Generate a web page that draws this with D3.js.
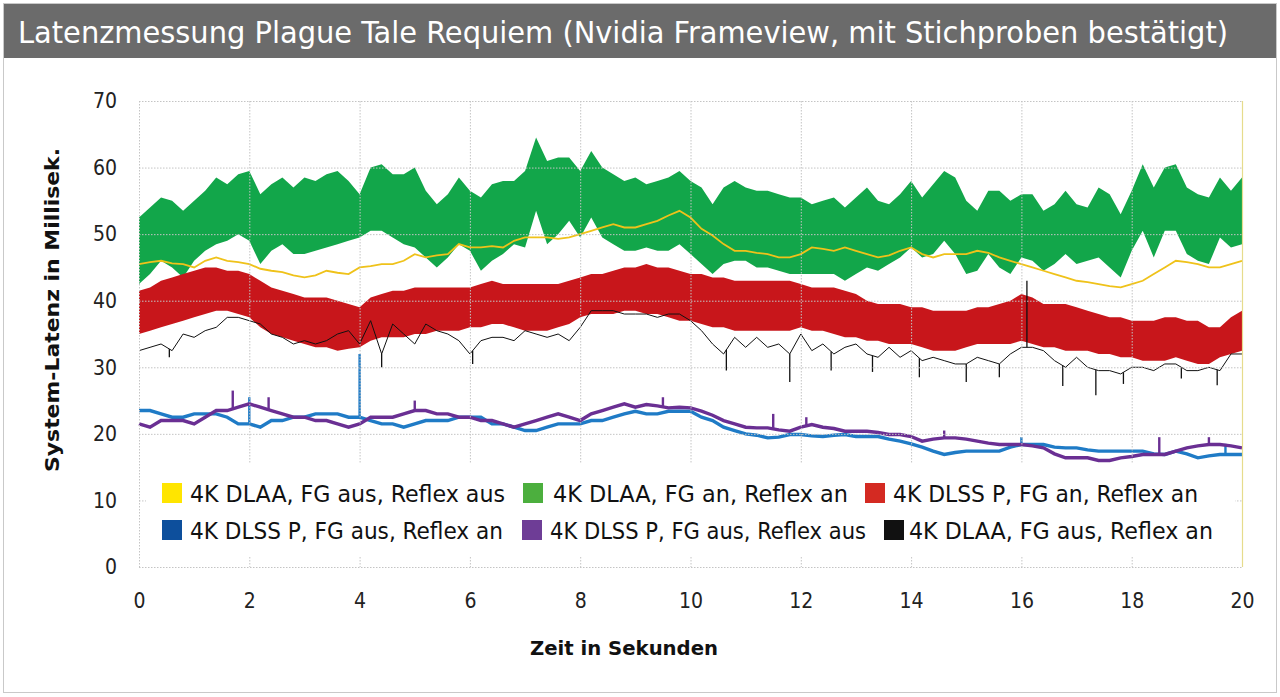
<!DOCTYPE html>
<html><head><meta charset="utf-8">
<script src="https://cdn.jsdelivr.net/npm/d3@7"></script>
<style>body{margin:0;background:#fff}svg{display:block}</style>
</head><body>
<script>
// ---- data ----
const timeSec = d3.range(0, 101).map(i => +(i * 0.2).toFixed(1));
const yTicks = [0,10,20,30,40,50,60,70];
const xTicks = [0,2,4,6,8,10,12,14,16,18,20];
const seriesNames = ["4K DLAA, FG aus, Reflex aus","4K DLAA, FG an, Reflex an","4K DLSS P, FG an, Reflex an",
  "4K DLSS P, FG aus, Reflex an","4K DLSS P, FG aus, Reflex aus","4K DLAA, FG aus, Reflex an"];
// green band (DLAA FG an Reflex an): upper / lower envelope
const greenUpper = [52.5,54,55.5,55,53.5,55,56.5,58.5,57.5,59,
 59.5,56,57.5,58.5,57,58.5,58,59,59.5,58,
 56,60,60.5,59,59,60,56.5,54.5,56,58.5,
 56.5,55.5,57.5,58,58,59.5,64.5,61,61.5,61.5,
 59.5,62.5,60,59,58,58.5,57.5,58,58.5,59.5,
 58,57,54.5,57,58,57,56.5,56.5,56,55.5,
 55.5,54.5,55,55.5,54,55.5,57,55,54.5,56,
 58,55.5,57.5,59.5,58.5,55,53.5,56.5,56.5,55,
 56,56,53.5,54.5,56.5,54.5,54,57,56,53,
 56.5,60.5,57,60,60.5,57,56,55.5,58.5,56.5,
 58.5];
const greenLower = [42.5,44,46,45,43.5,46,47.5,48.5,49,50,
 49,45.5,47.5,48.5,47,47,47.5,48,48.5,49,
 49.5,50.5,50.5,49.5,48.5,48,46.5,45,46.5,48.5,
 47.5,44.5,46,47,48.5,48,53.5,48.5,50,52,
 49.5,52.5,49.5,48.5,47.5,47.5,48,47.5,47.5,48.5,
 47,45.5,44,45.5,46,46,45,45,44.5,44,
 44,44,44,44,43,44,45,44.5,45.5,46.5,
 48,46.5,47,49,47,44,44.5,47,45,44,
 46.5,46,44.5,45.5,47,45.5,46,46.5,45,43.5,
 47.5,50.5,46.5,50.5,50.5,47,46,45.5,49.5,48,
 48.5];
// yellow line (DLAA FG aus Reflex aus)
const yellowVals = [45.5,45.8,46,45.6,45.5,45,46,46.5,46,45.8,
 45.5,44.8,44.5,44.3,43.8,43.5,43.8,44.5,44.2,44,
 45,45.2,45.5,45.5,46,47,46.5,46.8,47,48.5,
 48,48,48.2,48,49,49.5,49.5,49.5,49.3,49.5,
 50,50.5,51,51.5,51,51,51.5,52,52.8,53.5,
 52.5,50.8,49.8,48.5,47.5,47.5,47.2,47,46.5,46.5,
 47,48,47.8,47.5,48,47.5,47,46.5,46.8,47.5,
 48,47,46.5,47,47,47,47.5,47.2,46.5,46,
 45.5,45,44.5,44,43.5,43,42.8,42.5,42.2,42,
 42.5,43,44,45,46,45.8,45.5,45,45,45.5,
 46];
// red band (DLSS P FG an Reflex an)
const redUpper = [41.5,42,43,43.5,44,44.5,45,45,44.5,44.5,
 44,43,42,41.5,41,40.5,40.5,40.5,40,39.5,
 39,40.5,41,41.5,41.5,42,42,42,42,42,
 42,42.5,43,42.5,42.5,42.5,42.5,42.5,42.5,43,
 43.5,44,44,44.5,45,45,45.5,45,45,44.5,
 44,44,43.5,43.5,43,43,43,43,43,43,
 42.5,42,42,42,41.5,41,40,39.5,39.5,39.5,
 39,39,38.5,38.5,38.5,38.5,39,39,39.5,40,
 41,40.5,39.5,39.5,39.5,39,38.5,38,37.5,37.5,
 37,37,37,37.5,37.5,37,37,36,36,37.5,
 38.5];
const redLower = [35,35.5,36,36.5,37,37.5,38,38.5,38.5,38,
 37.5,36,35,34.5,34,33.5,33,33,32.5,32.8,
 33,34,34.5,34.5,34.5,35,35,35.5,35.5,35.5,
 36,36,36.5,36.5,36,35.5,35.5,35.5,36,36.5,
 37.5,38,38,38,38.5,38.5,38,38,37.5,37,
 37,36.5,36,36,35.5,35.5,35.5,35.5,35.5,35.5,
 36,35.5,35.5,35,34.5,34.5,34,34,33.5,33.5,
 33.5,33,32.5,32.5,32.5,33,33.5,33.5,33.5,33.5,
 34,33.5,33,33,32.5,32.5,32.5,32,32,31.5,
 31.5,31,31,31,31.5,31,30.5,30.5,31.5,32,
 32.5];
// black line (DLAA FG aus Reflex an)
const blackVals = [32.5,33,33.5,32.5,35,34.5,35.5,36,37.5,37.5,
 37,36.5,35,34.5,33.5,34,33.5,34,35,35.5,
 33.5,37,32,36.5,35,33.5,36.5,35.5,35,34,
 32,34,34.5,34.5,34,35.5,35,34.5,35,34,
 36,38.5,38.5,38.5,38,38,38,37.5,38,38,
 37,35.5,33.5,32,34.5,33,34.5,33,33.5,32,
 35,32.5,33.5,32,33,33.5,32,31.5,33,31.5,
 32.5,31,31.5,31,30.5,30.5,31.5,31,30.5,32,
 33,33,32.5,31,30,31.5,30,29.5,29.5,29,
 30,30,29.5,30.5,30.5,29.5,29.5,30,29.5,32,
 32];
// short spikes of the black line: [time, peak value]
const blackSpikes = [[0.55,31.5],[4.4,30],[6.05,30.5],[10.65,29.5],[11.8,27.8],[12.55,29.5],[13.3,29.3],
  [14.15,28.5],[15.0,27.8],[15.6,28.5],[16.1,43],[16.75,27.2],[17.35,25.8],[17.85,27.5],[18.9,28.3],[19.55,27.3]];
// blue line (DLSS P FG aus Reflex an)
const blueVals = [23.5,23.5,23,22.5,22.5,23,23,23,22.5,21.5,
 21.5,21,22,22,22.5,22.5,23,23,23,22.5,
 22.5,22,21.5,21.5,21,21.5,22,22,22,22.5,
 22.5,22.5,21.5,21.5,21,20.5,20.5,21,21.5,21.5,
 21.5,22,22,22.5,23,23.4,23,23,23.4,23.4,
 23.4,22.5,22,21,20.5,20,19.8,19.4,19.5,19.9,
 19.9,19.7,19.6,19.8,19.9,19.6,19.6,19.6,19.2,18.9,
 18.5,18,17.4,16.9,17.2,17.4,17.4,17.4,17.4,18,
 18.4,18.4,18.4,18,17.9,17.9,17.6,17.4,17.4,17.4,
 17.4,17.4,17,16.9,17.4,17,16.4,16.7,16.9,16.9,
 16.9];
const blueSpikes = [[4.0,32],[2.0,25.5],[16.0,19.5],[19.7,18.5]];
// purple line (DLSS P FG aus Reflex aus)
const purpleVals = [21.5,21,22,22,22,21.5,22.5,23.5,23.5,24,
 24.5,24,23.5,23,22.5,22.5,22,22,21.5,21,
 21.5,22.5,22.5,22.5,23,23.5,23.5,23,23,22.5,
 22.5,22,22,21.5,21,21.5,22,22.5,23,22.5,
 22,23,23.5,24,24.5,24,24.4,24.2,23.9,24,
 23.9,23.4,22.8,22,21.5,21,20.9,20.9,20.6,20.4,
 21,21.4,21,20.8,20.4,20.4,20.4,20.2,19.9,19.9,
 19.6,18.9,19.2,19.4,19.4,19.2,18.9,18.6,18.4,18.4,
 18.4,18.2,17.9,17,16.4,16.4,16.4,16,16,16.4,
 16.6,16.9,16.9,16.9,17.4,17.9,18.2,18.4,18.4,18.2,
 17.9];
const purpleSpikes = [[1.7,26.5],[2.35,25.5],[5.0,25],[9.5,25.5],[11.5,23],[12.1,22.5],[14.6,20.5],[18.5,19.5],[19.4,19.5]];

// ---- drawing ----
const W = 1280, H = 697;
const svg = d3.select("body").append("svg").attr("width", W).attr("height", H);
const FONT = "'Liberation Sans Narrow','DejaVu Sans Condensed','Open Sans',sans-serif";

svg.append("rect").attr("x",3.5).attr("y",3.5).attr("width",1273).attr("height",689)
  .attr("fill","#fff").attr("stroke","#c9c9c9");
svg.append("rect").attr("x",4).attr("y",4).attr("width",1272).attr("height",54).attr("fill","#6b6b6b");
svg.append("text").attr("x",18).attr("y",43).attr("fill","#fff")
  .style("font-family",FONT).style("font-size","31px")
  .attr("textLength",1210).attr("lengthAdjust","spacingAndGlyphs")
  .text("Latenzmessung Plague Tale Requiem (Nvidia Frameview, mit Stichproben bestätigt)");

const x = d3.scaleLinear().domain([0,20]).range([139,1242]);
const y = d3.scaleLinear().domain([0,70]).range([567,101]);

const pts = v => timeSec.map((t,i) => [t, v[i]]);
const band = (lo, hi) => timeSec.map((t,i) => ({t, lo: lo[i], hi: hi[i]}));
const area = d3.area().x(d => x(d.t)).y0(d => y(d.lo)).y1(d => y(d.hi));
const lineLin = d3.line().x(d => x(d[0])).y(d => y(d[1]));
const baseAt = (vals, t) => d3.scaleLinear().domain(timeSec).range(vals)(t);

const g = svg.append("g");
g.append("path").attr("d", area(band(greenLower, greenUpper))).attr("fill","#12a64a");
g.append("path").attr("d", area(band(redLower, redUpper))).attr("fill","#c8161b");
g.append("path").attr("d", lineLin(pts(yellowVals))).attr("fill","none").attr("stroke","#efc21a").attr("stroke-width",1.8);
g.append("path").attr("d", lineLin(pts(blackVals))).attr("fill","none").attr("stroke","#111").attr("stroke-width",1);
g.selectAll("line.bs").data(blackSpikes).join("line").attr("class","bs")
  .attr("x1",d=>x(d[0])).attr("x2",d=>x(d[0])).attr("y1",d=>y(baseAt(blackVals,d[0]))).attr("y2",d=>y(d[1]))
  .attr("stroke","#111").attr("stroke-width",1.3);
g.append("path").attr("d", lineLin(pts(blueVals))).attr("fill","none").attr("stroke","#1f7bc6").attr("stroke-width",3.4);
g.selectAll("line.us").data(blueSpikes).join("line").attr("class","us")
  .attr("x1",d=>x(d[0])).attr("x2",d=>x(d[0])).attr("y1",d=>y(baseAt(blueVals,d[0]))).attr("y2",d=>y(d[1]))
  .attr("stroke","#1f7bc6").attr("stroke-width",2.4);
g.append("path").attr("d", lineLin(pts(purpleVals))).attr("fill","none").attr("stroke","#6a2f93").attr("stroke-width",3.4);
g.selectAll("line.ps").data(purpleSpikes).join("line").attr("class","ps")
  .attr("x1",d=>x(d[0])).attr("x2",d=>x(d[0])).attr("y1",d=>y(baseAt(purpleVals,d[0]))).attr("y2",d=>y(d[1]))
  .attr("stroke","#6a2f93").attr("stroke-width",2.4);

// grid (on top)
const grid = svg.append("g").attr("stroke","#c4c4c4").attr("stroke-width",1).attr("stroke-dasharray","1.5,1.5");
grid.selectAll("line.h").data(yTicks).join("line").attr("class","h")
  .attr("x1",x(0)).attr("x2",x(20)).attr("y1",d=>y(d)+0.5).attr("y2",d=>y(d)+0.5);
grid.selectAll("line.v").data(xTicks.slice(0,-1)).join("line").attr("class","v")
  .attr("x1",d=>x(d)+0.5).attr("x2",d=>x(d)+0.5).attr("y1",y(70)).attr("y2",y(0));
svg.append("line").attr("x1",x(20)+0.5).attr("x2",x(20)+0.5).attr("y1",y(70)).attr("y2",y(0))
  .attr("stroke","#e6dc8c").attr("stroke-width",1.2);

// axes
const ax = svg.append("g").attr("transform",`translate(0,${y(0)})`)
  .call(d3.axisBottom(x).tickValues(xTicks).tickSize(0).tickPadding(26).tickFormat(d3.format("d")));
const ay = svg.append("g").attr("transform",`translate(${x(0)},0)`)
  .call(d3.axisLeft(y).tickValues(yTicks).tickSize(0).tickPadding(22).tickFormat(d3.format("d")));
[ax, ay].forEach(a => {
  a.select(".domain").remove();
  a.selectAll("text").style("font-family",FONT).style("font-size","21px").attr("fill","#222");
});

svg.append("text").attr("transform","translate(59,310) rotate(-90)").attr("text-anchor","middle")
  .style("font-family",FONT).style("font-size","19px").style("font-weight","bold").attr("fill","#111")
  .attr("textLength",324).attr("lengthAdjust","spacingAndGlyphs").text("System-Latenz in Millisek.");
svg.append("text").attr("x",624).attr("y",655).attr("text-anchor","middle")
  .style("font-family",FONT).style("font-size","20px").style("font-weight","bold").attr("fill","#111")
  .attr("textLength",188).attr("lengthAdjust","spacingAndGlyphs").text("Zeit in Sekunden");

// legend
svg.append("rect").attr("x",146).attr("y",464).attr("width",1089).attr("height",92).attr("fill","#fff");
const legendColors = ["#ffe500","#4caf3e","#d42a22","#0d4f9c","#6e3d96","#111111"];
const legPos = [
  {sx:162, sy:483, tx:190, w:315},{sx:523, sy:483, tx:553, w:295},{sx:865, sy:483, tx:893, w:305},
  {sx:162, sy:520, tx:190, w:313},{sx:522, sy:520, tx:550, w:316},{sx:884, sy:520, tx:909, w:304}];
const leg = svg.append("g").selectAll("g").data(seriesNames).join("g");
leg.append("rect").attr("x",(d,i)=>legPos[i].sx).attr("y",(d,i)=>legPos[i].sy)
  .attr("width",20).attr("height",20).attr("fill",(d,i)=>legendColors[i]);
leg.append("text").attr("x",(d,i)=>legPos[i].tx).attr("y",(d,i)=>legPos[i].sy+19)
  .style("font-family",FONT).style("font-size","23px").attr("fill","#111")
  .attr("textLength",(d,i)=>legPos[i].w).attr("lengthAdjust","spacingAndGlyphs").text(d=>d);
</script>
</body></html>
